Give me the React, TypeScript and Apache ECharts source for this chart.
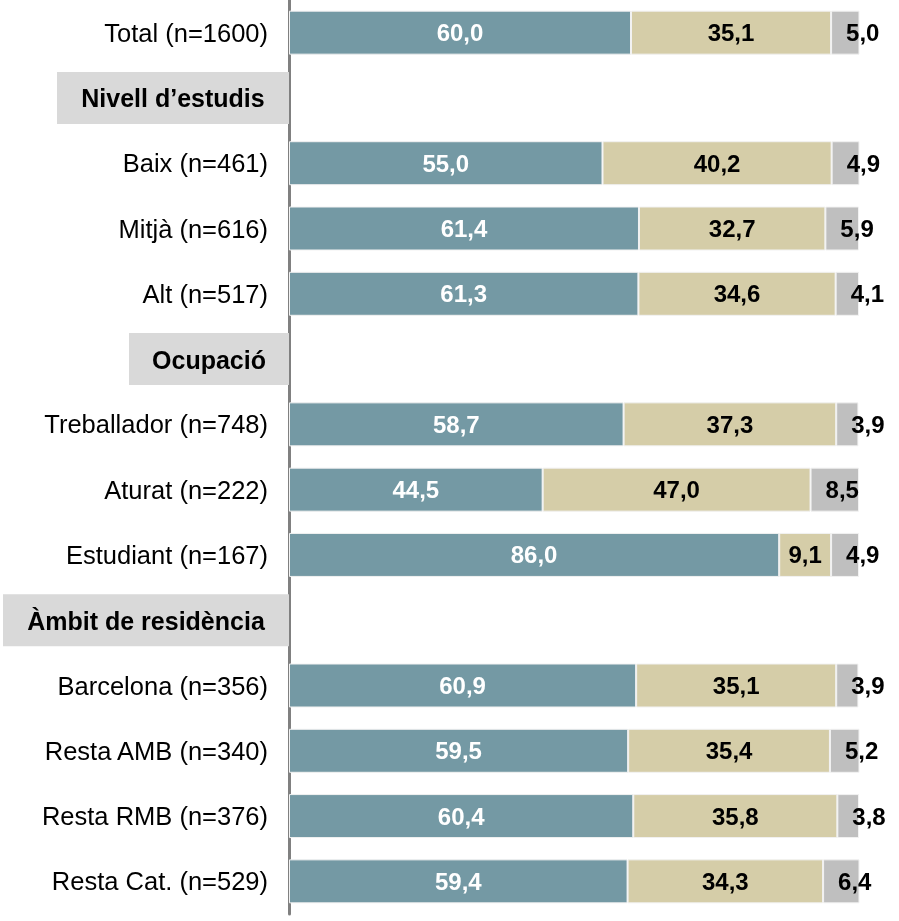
import React, { useEffect, useRef } from "react";
import * as echarts from "echarts";

const categories = [
  "Total (n=1600)",
  "Nivell d’estudis",
  "Baix (n=461)",
  "Mitjà (n=616)",
  "Alt (n=517)",
  "Ocupació",
  "Treballador (n=748)",
  "Aturat (n=222)",
  "Estudiant (n=167)",
  "Àmbit de residència",
  "Barcelona (n=356)",
  "Resta AMB (n=340)",
  "Resta RMB (n=376)",
  "Resta Cat. (n=529)",
];

const headers = ["Nivell d’estudis", "Ocupació", "Àmbit de residència"];

const seriesA = [60.0, null, 55.0, 61.4, 61.3, null, 58.7, 44.5, 86.0, null, 60.9, 59.5, 60.4, 59.4];
const seriesB = [35.1, null, 40.2, 32.7, 34.6, null, 37.3, 47.0, 9.1, null, 35.1, 35.4, 35.8, 34.3];
const seriesC = [5.0, null, 4.9, 5.9, 4.1, null, 3.9, 8.5, 4.9, null, 3.9, 5.2, 3.8, 6.4];

const FONT = "'Liberation Sans', Arial, sans-serif";

const fmt = (p: any) =>
  p.value == null ? "" : Number(p.value).toFixed(1).replace(".", ",");

export default function App() {
  const ref = useRef<HTMLDivElement>(null);
  useEffect(() => {
    if (!ref.current) return;
    const chart = echarts.init(ref.current, undefined, { renderer: "svg" });
    const headerStyle = (w: number) => ({
      fontFamily: FONT,
      fontSize: 25,
      fontWeight: "bold",
      color: "#000",
      backgroundColor: "#d9d9d9",
      width: w,
      align: "center",
      lineHeight: 25,
      padding: [14, 0, 13, 0],
    });
    const barItem = (color: string) => ({
      color,
      borderColor: "#f2f2f2",
      borderWidth: 1,
    });
    const valueLabel = (color: string) => ({
      show: true,
      position: "inside",
      formatter: fmt,
      color,
      fontFamily: FONT,
      fontSize: 24,
      fontWeight: "bold",
    });
    chart.setOption({
      animation: false,
      grid: { left: 285, right: 40, top: -2, height: 916, containLabel: false },
      xAxis: {
        type: "value",
        min: 0,
        max: 100,
        show: false,
      },
      yAxis: {
        type: "category",
        inverse: true,
        data: categories,
        axisLine: { show: true, lineStyle: { color: "#808080", width: 3 } },
        axisTick: { show: false },
        axisLabel: {
          margin: 0,
          formatter: (v: string) => {
            const i = headers.indexOf(v);
            if (i >= 0) return `{h${i}|${v}}`;
            return `{n|${v}}`;
          },
          rich: {
            n: {
              fontFamily: FONT,
              fontSize: 25.5,
              color: "#000",
              padding: [0, 21, 0, 0],
            },
            h0: headerStyle(232),
            h1: headerStyle(160),
            h2: headerStyle(286),
          },
        },
      },
      series: [
        {
          type: "bar",
          stack: "s",
          data: seriesA,
          barWidth: 44,
          itemStyle: barItem("#7499a4"),
          label: valueLabel("#fff"),
        },
        {
          type: "bar",
          stack: "s",
          data: seriesB,
          barWidth: 44,
          itemStyle: barItem("#d5cda8"),
          label: valueLabel("#000"),
        },
        {
          type: "bar",
          stack: "s",
          data: seriesC,
          barWidth: 44,
          itemStyle: barItem("#bfbfbf"),
          label: { ...valueLabel("#000"), position: "insideLeft", distance: 15 },
        },
      ],
    });
    return () => chart.dispose();
  }, []);
  return (
    <div
      ref={ref}
      style={{ position: "fixed", left: 0, top: 0, width: 899, height: 921 }}
    />
  );
}
